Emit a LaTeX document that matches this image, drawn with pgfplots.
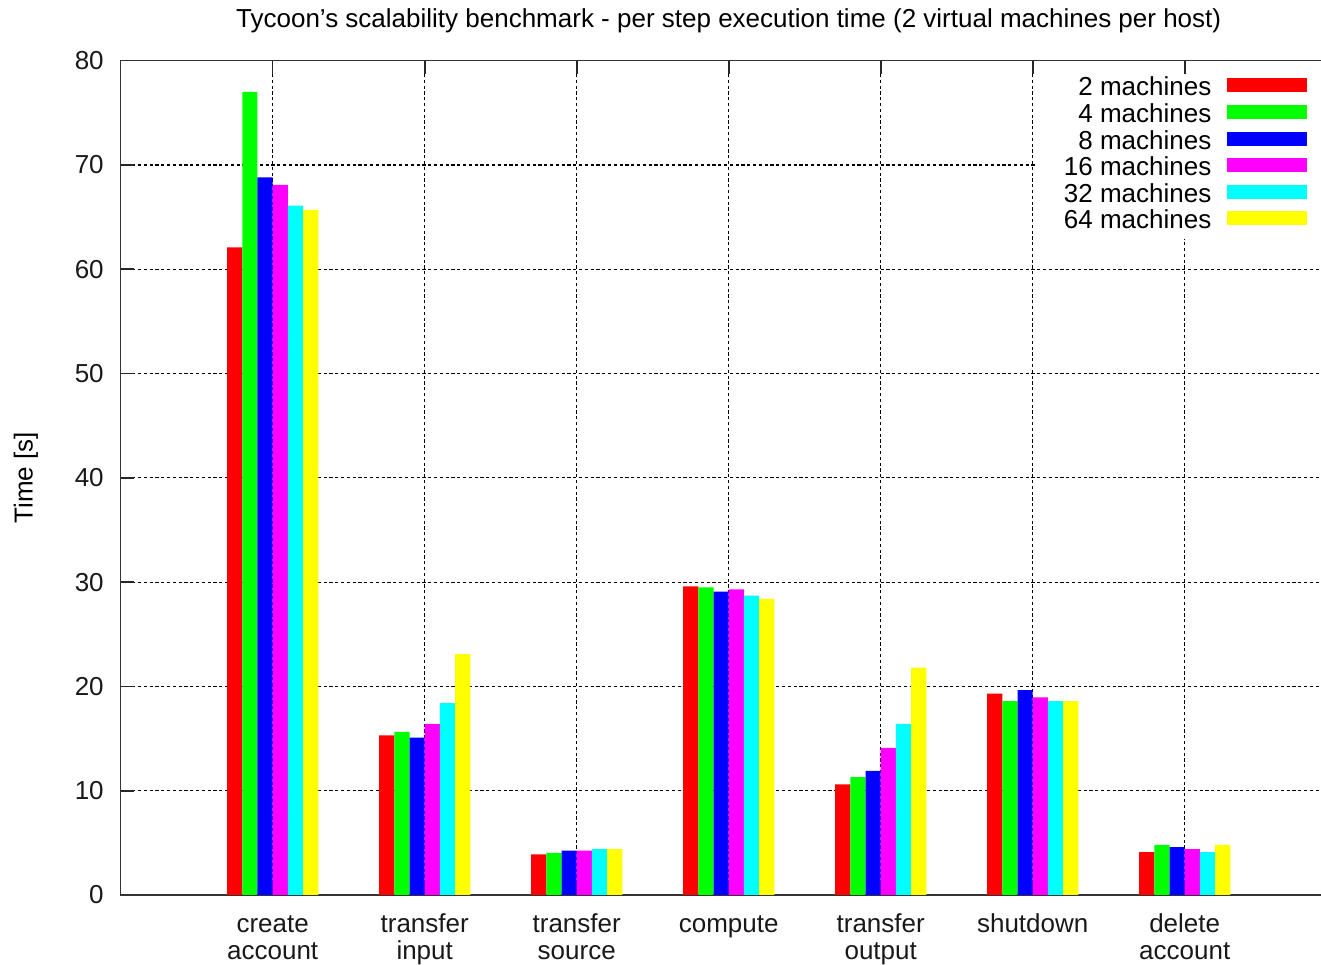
\documentclass[border=0pt]{standalone}
\usepackage{pgfplots}
\pgfplotsset{compat=1.18}
\usepackage{fontspec}
\setmainfont{Liberation Sans}
\definecolor{cRed}{RGB}{255,0,0}
\definecolor{cGreen}{RGB}{0,255,0}
\definecolor{cBlue}{RGB}{0,0,255}
\definecolor{cMag}{RGB}{255,0,255}
\definecolor{cCyan}{RGB}{0,255,255}
\definecolor{cYel}{RGB}{255,255,0}
\begin{document}
\begin{tikzpicture}
\path[use as bounding box] (-60.35bp,-35bp) rectangle (600.15bp,447.5bp);
\begin{axis}[
  at={(0,0)}, anchor=south west,
  scale only axis,
  width=608bp, height=417.15bp,
  xmin=0, xmax=8, ymin=0, ymax=80,
  ybar=0pt, bar width=0.1,
  xtick={1,2,3,4,5,6,7},
  xticklabels={{\strut create\\account},{\strut transfer\\input},{\strut transfer\\source},{\strut compute},{\strut transfer\\output},{\strut shutdown},{\strut delete\\account}},
  ytick={0,10,20,30,40,50,60,70,80},
  /pgf/number format/assume math mode=true,
  tick align=inside,
  major tick length=6.5bp,
  every tick/.style={black!85, line width=0.8bp},
  axis line style={black!80, line width=0.8bp},
  grid=major,
  major grid style={black, line width=0.6bp, dash pattern=on 1.6bp off 1.3bp},
  ticklabel style={font=\fontsize{13bp}{13.5bp}\selectfont, text=black!90},
  yticklabel style={inner sep=0pt, xshift=-8.3bp},
  xticklabel style={inner sep=0pt, yshift=-9bp, align=center, anchor=north},
  ylabel={Time [s]},
  every axis y label/.style={at={(rel axis cs:0,0.5)}, xshift=-47.35bp, rotate=90, anchor=center, font=\fontsize{13bp}{15bp}\selectfont},
  every axis title shift=0pt,
  title={Tycoon’s scalability benchmark - per step execution time (2 virtual machines per host)},
  title style={at={(rel axis cs:0.5,1)}, anchor=base, yshift=16.35bp, inner sep=0pt, font=\fontsize{13bp}{15bp}\selectfont},
  legend plot pos=right,
  legend cell align=right,
  legend image code/.code={\fill[#1, draw=none] (0bp,-1.15bp) rectangle (40bp,5.85bp);},
  legend style={at={(rel axis cs:1,1)}, anchor=north east, xshift=-1bp, yshift=-6.35bp,
    draw=none, fill=white, inner xsep=13.5bp, inner ysep=1.5bp, row sep=0pt, column sep=8bp,
    nodes={inner sep=0pt, text height=9.6bp, text depth=3.7bp, font=\fontsize{13bp}{15bp}\selectfont}},
]
\addplot[fill=cRed, draw=none] coordinates {(1,62.1) (2,15.3) (3,3.9) (4,29.6) (5,10.6) (6,19.3) (7,4.1)};
\addlegendentry{2 machines}
\addplot[fill=cGreen, draw=none] coordinates {(1,77.0) (2,15.65) (3,4.05) (4,29.5) (5,11.3) (6,18.6) (7,4.8)};
\addlegendentry{4 machines}
\addplot[fill=cBlue, draw=none] coordinates {(1,68.8) (2,15.1) (3,4.25) (4,29.1) (5,11.9) (6,19.65) (7,4.6)};
\addlegendentry{8 machines}
\addplot[fill=cMag, draw=none] coordinates {(1,68.1) (2,16.4) (3,4.25) (4,29.3) (5,14.1) (6,18.95) (7,4.4)};
\addlegendentry{16 machines}
\addplot[fill=cCyan, draw=none] coordinates {(1,66.1) (2,18.4) (3,4.4) (4,28.7) (5,16.4) (6,18.6) (7,4.1)};
\addlegendentry{32 machines}
\addplot[fill=cYel, draw=none] coordinates {(1,65.7) (2,23.1) (3,4.4) (4,28.4) (5,21.8) (6,18.6) (7,4.8)};
\addlegendentry{64 machines}
\end{axis}
\end{tikzpicture}
\end{document}
